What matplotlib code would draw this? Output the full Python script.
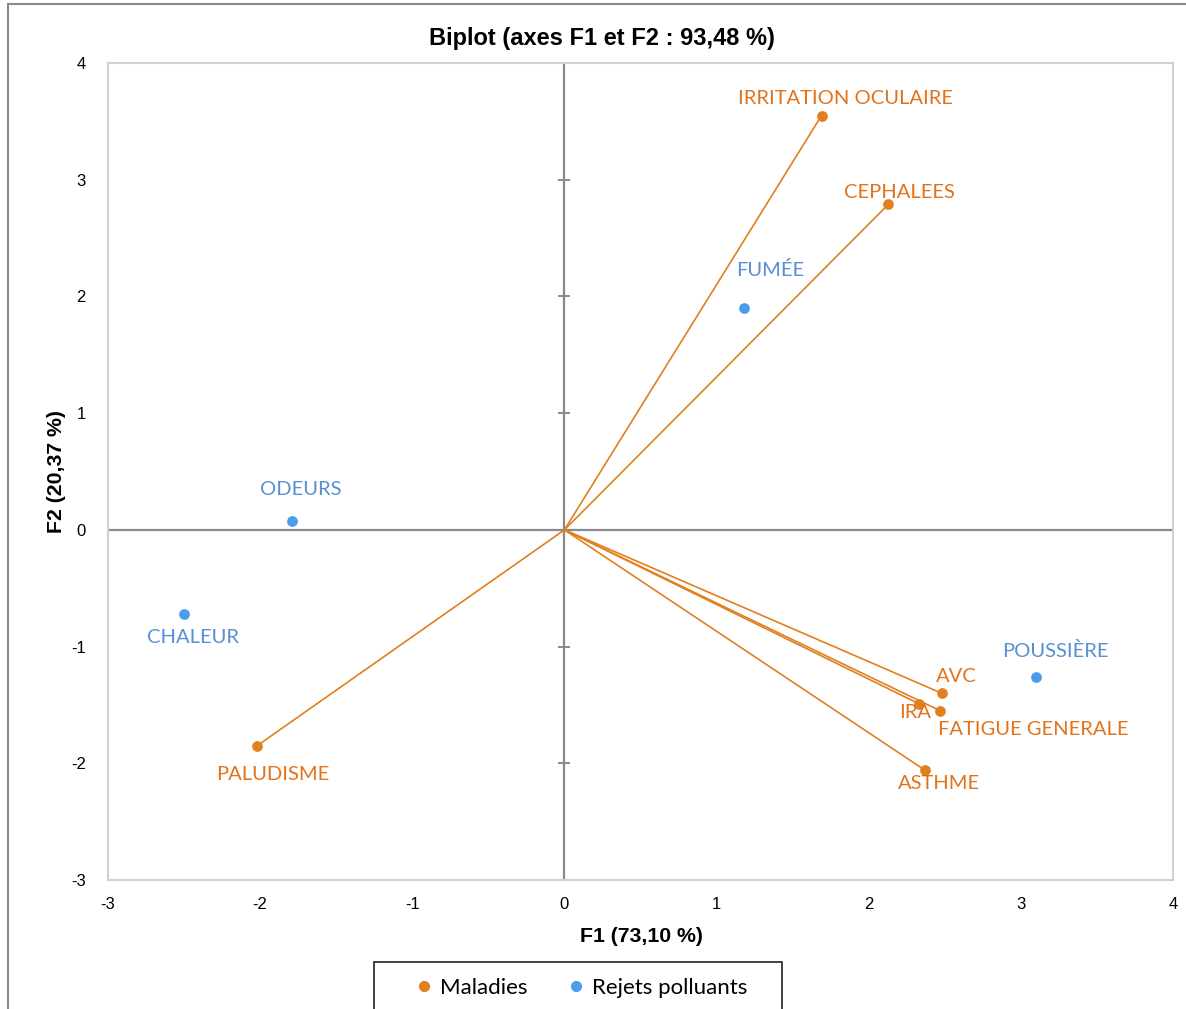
import matplotlib.pyplot as plt
from matplotlib.lines import Line2D
from matplotlib.patches import Rectangle

plt.rcParams["axes.unicode_minus"] = False

# biplot coordinates on F1 / F2
MALADIES = ["IRRITATION OCULAIRE", "CEPHALEES", "PALUDISME", "AVC", "IRA",
            "FATIGUE GENERALE", "ASTHME"]
MALADIES_F1 = [1.69, 2.13, -2.02, 2.48, 2.33, 2.47, 2.37]
MALADIES_F2 = [3.55, 2.79, -1.85, -1.40, -1.49, -1.55, -2.06]

REJETS = ["FUMÉE", "ODEURS", "CHALEUR", "POUSSIÈRE"]
REJETS_F1 = [1.18, -1.79, -2.50, 3.10]
REJETS_F2 = [1.90, 0.08, -0.72, -1.26]

X_TICKS = [-3, -2, -1, 0, 1, 2, 3, 4]
Y_TICKS = [-3, -2, -1, 0, 1, 2, 3, 4]

# label offsets in pixels (dx, dy) relative to each point
MALADIES_OFFSETS = [(24, 17), (11, 12), (16, -29), (15, 17), (-4, -9),
                    (93, -19), (14, -13)]
REJETS_OFFSETS = [(26, 38), (9, 31), (9, -24), (19, 26)]

ORANGE = "#E0801E"
ORANGE_TEXT = "#E3731B"
BLUE = "#4B9CEB"
BLUE_TEXT = "#5A8FD6"
AXIS_GREY = "#8a8a8a"
LABEL_FONT = ["Lato", "DejaVu Sans"]
ARIAL = ["Liberation Sans", "DejaVu Sans"]

fig = plt.figure(figsize=(11.86, 10.09), dpi=100)
ax = fig.add_axes([108 / 1186, 1 - 880 / 1009, 1065 / 1186, 817 / 1009])

ax.set_xlim(X_TICKS[0], X_TICKS[-1])
ax.set_ylim(Y_TICKS[0], Y_TICKS[-1])
ax.set_xticks(X_TICKS)
ax.set_yticks(Y_TICKS)
ax.tick_params(axis="x", length=0, labelsize=12, pad=12)
ax.tick_params(axis="y", length=0, labelsize=12, pad=16)
for lbl in ax.get_xticklabels() + ax.get_yticklabels():
    lbl.set_family(ARIAL)
for spine in ax.spines.values():
    spine.set_color("#d0d0d0")
    spine.set_linewidth(1.5)

# zero axes, tick marks only on the vertical one
ax.axhline(0, color=AXIS_GREY, lw=1.6, zorder=1)
ax.axvline(0, color=AXIS_GREY, lw=1.6, zorder=1)
ax.plot([0] * len(Y_TICKS), Y_TICKS, ls="none", marker="_", ms=9,
        mew=1.4, color=AXIS_GREY, zorder=1)

# disease vectors from the origin
for x, y in zip(MALADIES_F1, MALADIES_F2):
    ax.plot([0, x], [0, y], color=ORANGE, lw=1.2, zorder=2)
ax.scatter(MALADIES_F1, MALADIES_F2, s=45, color=ORANGE, zorder=3)
ax.scatter(REJETS_F1, REJETS_F2, s=45, color=BLUE, zorder=3)

for name, x, y, off in zip(MALADIES, MALADIES_F1, MALADIES_F2, MALADIES_OFFSETS):
    ax.annotate(name, (x, y), xytext=off, textcoords="offset pixels",
                ha="center", va="center", color=ORANGE_TEXT, fontsize=14.5,
                family=LABEL_FONT, zorder=4)
for name, x, y, off in zip(REJETS, REJETS_F1, REJETS_F2, REJETS_OFFSETS):
    ax.annotate(name, (x, y), xytext=off, textcoords="offset pixels",
                ha="center", va="center", color=BLUE_TEXT, fontsize=14.5,
                family=LABEL_FONT, zorder=4)

fig.text(602 / 1186, 1 - 38 / 1009, "Biplot (axes F1 et F2 : 93,48 %)",
         ha="center", va="center", fontsize=17, fontweight="bold", family=ARIAL)
fig.text(641 / 1186, 1 - 937 / 1009, "F1 (73,10 %)", ha="center", va="center",
         fontsize=15.3, fontweight="bold", family=ARIAL)
fig.text(56 / 1186, 1 - 472 / 1009, "F2 (20,37 %)", ha="center", va="center",
         rotation=90, fontsize=15.3, fontweight="bold", family=ARIAL)

handles = [
    Line2D([], [], ls="none", marker="o", ms=7, color=ORANGE, label="Maladies"),
    Line2D([], [], ls="none", marker="o", ms=7, color=BLUE, label="Rejets polluants"),
]
fig.legend(handles=handles, loc="center", ncol=2, frameon=False,
           bbox_to_anchor=(579 / 1186, 1 - 988 / 1009),
           prop={"family": LABEL_FONT, "size": 16}, handletextpad=0.1,
           columnspacing=1.6, handlelength=1.2)
# legend box runs past the bottom edge
fig.add_artist(Rectangle((374 / 1186, -0.05), 408 / 1186, 0.05 + 47 / 1009,
                         transform=fig.transFigure, fill=False,
                         edgecolor="#222222", lw=1.2, clip_on=False))

# chart area border
fig.add_artist(Rectangle((8 / 1186, -0.1), 1.2, 1.1 - 4 / 1009,
                         transform=fig.transFigure, fill=False,
                         edgecolor=AXIS_GREY, lw=1.5, clip_on=False))

fig.savefig("out.png", dpi=100)
